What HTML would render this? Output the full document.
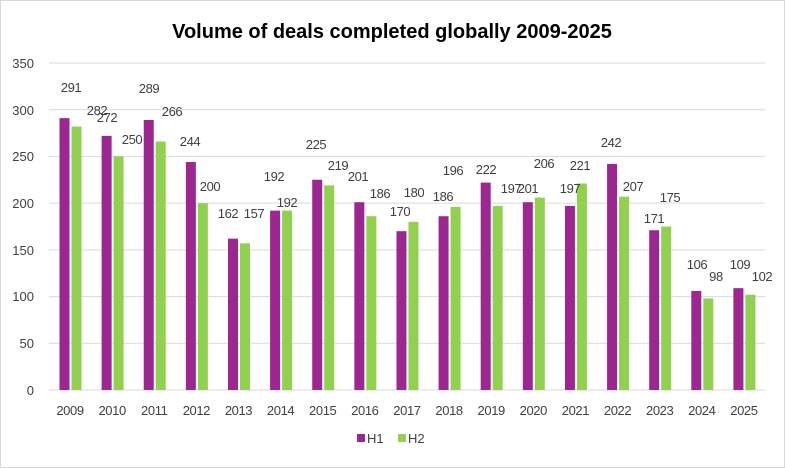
<!DOCTYPE html>
<html><head><meta charset="utf-8"><style>
html,body{margin:0;padding:0;background:#fff;}
svg{display:block;font-family:"Liberation Sans",sans-serif;}
</style></head><body>
<svg width="785" height="468" viewBox="0 0 785 468" xmlns="http://www.w3.org/2000/svg">
<rect x="0.5" y="0.5" width="784" height="467" fill="#fff" stroke="#d9d9d9"/>
<text x="392" y="38" text-anchor="middle" font-size="20" font-weight="bold" fill="#000">Volume of deals completed globally 2009-2025</text>
<g stroke="#d9d9d9" stroke-width="1">
<line x1="49" y1="63" x2="765" y2="63"/><line x1="49" y1="109.7" x2="765" y2="109.7"/>
<line x1="49" y1="156.4" x2="765" y2="156.4"/><line x1="49" y1="203.1" x2="765" y2="203.1"/>
<line x1="49" y1="249.9" x2="765" y2="249.9"/><line x1="49" y1="296.6" x2="765" y2="296.6"/>
<line x1="49" y1="343.3" x2="765" y2="343.3"/><line x1="49" y1="390" x2="765" y2="390"/>
</g>
<g font-size="13" fill="#404040" text-anchor="end">
<text x="34" y="68">350</text><text x="34" y="115">300</text><text x="34" y="161">250</text>
<text x="34" y="208">200</text><text x="34" y="255">150</text><text x="34" y="301">100</text>
<text x="34" y="348">50</text><text x="34" y="395">0</text>
</g>
<g id="bars"></g>
<g id="labels" font-size="13" fill="#404040" text-anchor="middle" letter-spacing="-0.4"></g>
<g font-size="13" fill="#404040">
<rect x="357" y="434" width="8" height="8" fill="#9c2791"/><text x="367" y="443">H1</text>
<rect x="398" y="434" width="8" height="8" fill="#92d050"/><text x="408" y="443">H2</text>
</g>
<script>
var h1=[291,272,289,244,162,192,225,201,170,186,222,201,197,242,171,106,109];
var h2=[282,250,266,200,157,192,219,186,180,196,197,206,221,207,175,98,102];
var lp=[[71,87,97,110],[107,117,132,139],[149,88,172,111],[190,141,210,186],[228,213,254,213],[274,176,287,202],[316,144,338,165],[358,176,380,193],[400,211,414,192],[443,196,453,170],[486,169,511,188],[528,188,544,163],[570,188,580,165],[611,142,633,186],[654,218,670,197],[697,264,716,276],[740,264,762,276]];
var ns="http://www.w3.org/2000/svg",b=document.getElementById("bars"),L=document.getElementById("labels");
function el(p,t,a,txt){var e=document.createElementNS(ns,t);for(var k in a)e.setAttribute(k,a[k]);if(txt!=null)e.textContent=txt;p.appendChild(e);}
var k=327/350;
for(var i=0;i<17;i++){
 var x=59.5+i*42.12;
 el(b,"rect",{x:x,y:390-h1[i]*k,width:10,height:h1[i]*k,fill:"#9c2791"});
 el(b,"rect",{x:x+12,y:390-h2[i]*k,width:10,height:h2[i]*k,fill:"#92d050"});
 el(L,"text",{x:x+10.5,y:415},String(2009+i));
 el(L,"text",{x:lp[i][0],y:lp[i][1]+5},String(h1[i]));
 el(L,"text",{x:lp[i][2],y:lp[i][3]+5},String(h2[i]));
}
</script>
</svg>
</body></html>
